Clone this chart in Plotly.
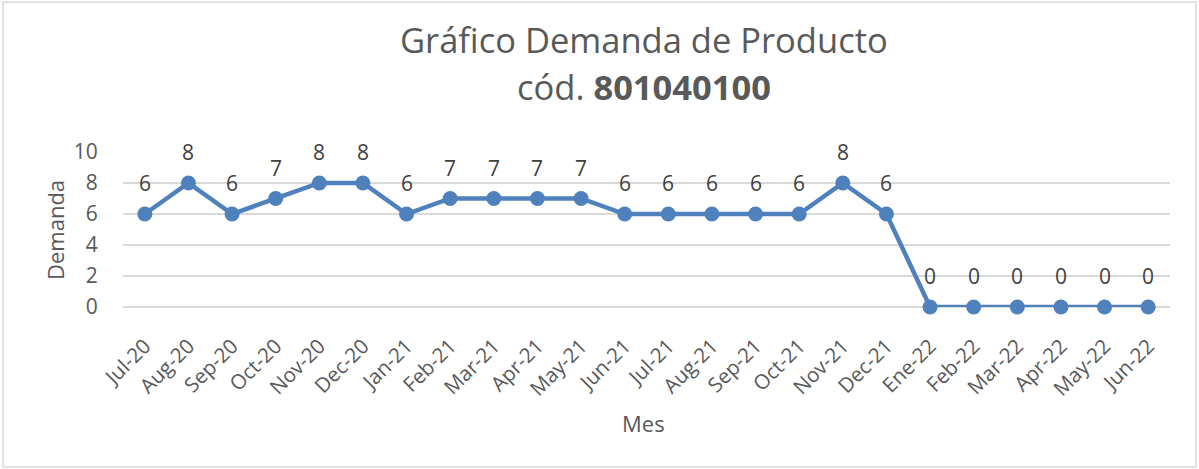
import plotly.graph_objects as go

months = ["Jul-20", "Aug-20", "Sep-20", "Oct-20", "Nov-20", "Dec-20", "Jan-21", "Feb-21",
          "Mar-21", "Apr-21", "May-21", "Jun-21", "Jul-21", "Aug-21", "Sep-21", "Oct-21",
          "Nov-21", "Dec-21", "Ene-22", "Feb-22", "Mar-22", "Apr-22", "May-22", "Jun-22"]
demanda = [6, 8, 6, 7, 8, 8, 6, 7, 7, 7, 7, 6, 6, 6, 6, 6, 8, 6, 0, 0, 0, 0, 0, 0]
y_ticks = [0, 2, 4, 6, 8, 10]

FONT = "Open Sans"
BLUE = "#4F81BD"
GRAY = "#595959"

W, H = 1199, 469
L, R, T, B = 123, 29, 152, 162
pw, ph = W - L - R, H - T - B

fig = go.Figure()
fig.add_trace(go.Scatter(
    x=months, y=demanda, mode="lines+markers",
    line=dict(color=BLUE, width=4.5),
    marker=dict(color=BLUE, size=15),
    cliponaxis=False,
    hoverinfo="x+y", showlegend=False,
))

annotations = []
for m, v in zip(months, demanda):
    annotations.append(dict(x=m, y=v, xref="x", yref="y", text=str(v), showarrow=False,
                            yshift=31, font=dict(family=FONT, size=21, color="#404040")))

# Title
annotations.append(dict(xref="paper", yref="paper", x=0.498, y=1 + (T - 40) / ph,
                        yanchor="middle", xanchor="center",
                        text="Gráfico Demanda de Producto", showarrow=False,
                        font=dict(family=FONT, size=34.5, color=GRAY)))
annotations.append(dict(xref="paper", yref="paper", x=0.498, y=1 + (T - 87) / ph,
                        yanchor="middle", xanchor="center",
                        text="cód. <b>801040100</b>", showarrow=False,
                        font=dict(family=FONT, size=34.5, color=GRAY)))
# Axis titles
annotations.append(dict(xref="paper", yref="paper", x=(55 - L) / pw, y=1 - (230 - T) / ph,
                        xanchor="center", yanchor="middle", textangle=-90,
                        text="Demanda", showarrow=False,
                        font=dict(family=FONT, size=22, color=GRAY)))
annotations.append(dict(xref="paper", yref="paper", x=(643 - L) / pw, y=1 - (423 - T) / ph,
                        xanchor="center", yanchor="middle",
                        text="Mes", showarrow=False,
                        font=dict(family=FONT, size=22, color=GRAY)))

fig.update_layout(
    width=W, height=H,
    margin=dict(l=L, r=R, t=T, b=B),
    paper_bgcolor="white", plot_bgcolor="white",
    annotations=annotations,
    xaxis=dict(type="category", tickangle=-45, showgrid=False, showline=False, zeroline=False,
               ticks="outside", ticklen=18, tickcolor="rgba(0,0,0,0)",
               tickfont=dict(family=FONT, size=20.5, color=GRAY),
               range=[-0.5, len(months) - 0.5]),
    yaxis=dict(range=[0, 10], tickvals=y_ticks, showgrid=True, gridcolor="#D9D9D9", gridwidth=1.5,
               zeroline=True, zerolinecolor="#D9D9D9", zerolinewidth=1.5, showline=False,
               ticks="outside", ticklen=20, tickcolor="rgba(0,0,0,0)",
               tickfont=dict(family=FONT, size=21, color=GRAY)),
    shapes=[dict(type="rect", xref="paper", yref="paper",
                 x0=(3 - L) / pw, x1=(1196 - L) / pw,
                 y0=1 - (467 - T) / ph, y1=1 + (T - 2) / ph,
                 line=dict(color="#D9D9D9", width=1.5), fillcolor="rgba(0,0,0,0)", layer="below")],
)

fig.write_html("out.html", config={"displayModeBar": False},
               post_script="document.body.style.margin='0';document.body.style.overflow='hidden';")
